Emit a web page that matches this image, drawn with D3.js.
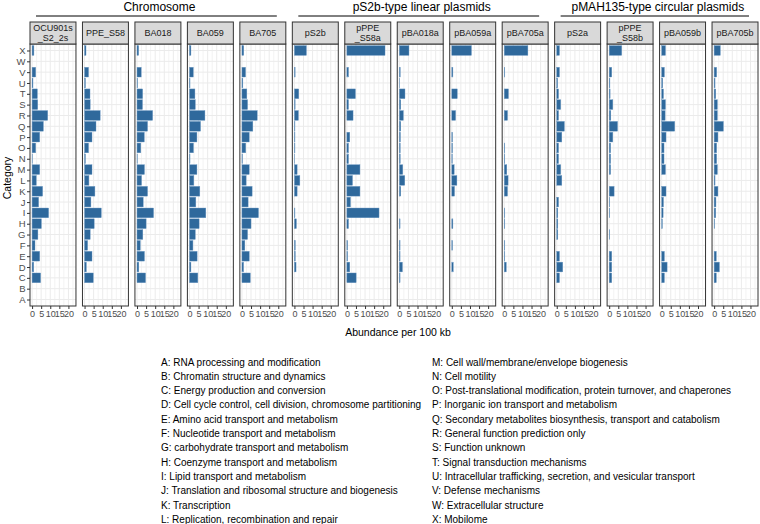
<!DOCTYPE html>
<html>
<head>
<meta charset="utf-8">
<script src="https://cdn.jsdelivr.net/npm/d3@7"></script>
<style>
  body { margin: 0; background: #fff; }
  svg { font-family: "Liberation Sans", Arial, sans-serif; }
</style>
</head>
<body>
<div id="chart"></div>
<script>

// 1. Data (values in category order A..X, abundance per 100 kb)

const categories = ["A","B","C","D","E","F","G","H","I","J","K","L","M","N","O","P","Q","R","S","T","U","V","W","X"]

const panels = ["OCU901s_S2_2s","PPE_S58","BA018","BA059","BA705",
  "pS2b","pPPE_S58a","pBA018a","pBA059a","pBA705a",
  "pS2a","pPPE_S58b","pBA059b","pBA705b"]

const stripLabels = [["OCU901s","_S2_2s"],["PPE_S58"],["BA018"],["BA059"],["BA705"],
  ["pS2b"],["pPPE","_S58a"],["pBA018a"],["pBA059a"],["pBA705a"],
  ["pS2a"],["pPPE","_S58b"],["pBA059b"],["pBA705b"]]

const groupNames = ["Chromosome","pS2b-type linear plasmids","pMAH135-type circular plasmids"]
const groupFirst = [0, 5, 10]
const groupLast = [4, 9, 13]

const xTicks = [0, 5, 10, 15, 20]
const xMinorTicks = [2.5, 7.5, 12.5, 17.5, 22.5]
const xLimits = [-1.15, 24.15]

const ocu901s = [0,0,4.7,0.9,4.2,1.6,3.2,5.1,9.1,3.6,5.8,2.3,4.2,0.2,2.0,4.2,6.2,8.6,3.1,2.9,0.5,2.0,0,1.0]
const ppeS58 = [0,0,4.8,1.0,4.1,1.7,3.1,5.3,9.2,3.5,5.7,2.4,4.1,0.5,2.2,4.1,6.3,8.6,3.1,3.0,0.5,2.2,0,0.8]
const ba018 = [0,0,4.7,1.0,4.1,1.8,3.2,5.0,9.1,3.4,5.8,2.5,4.1,0.2,2.1,4.0,5.8,8.6,3.0,3.1,0.3,2.3,0,0.9]
const ba059 = [0,0,4.6,0.8,4.2,1.9,3.2,5.3,9.0,3.5,5.7,2.4,4.1,0.3,2.2,4.1,6.1,8.5,3.2,3.0,0.3,2.1,0,0.8]
const ba705 = [0,0,4.6,0.9,4.0,1.6,3.1,5.0,9.1,3.4,5.6,2.3,4.0,0.3,2.1,4.0,6.0,8.4,3.1,2.7,0.5,2.0,0,1.0]
const pS2b = [0,0,0,0.9,0.5,0.5,0,1.1,0.3,0,1.5,3.0,1.5,0.2,0.3,0.3,0.3,2.2,0.4,2.4,0,0.4,0,6.6]
const pPPE_S58a = [0,0,5.1,1.6,0.4,0.4,0,0.9,17.7,2.0,7.2,3.1,7.2,0.9,0.9,1.6,0,3.4,0.9,4.7,0,0.9,0,21.0]
const pBA018a = [0,0,0.4,1.7,0.4,0.4,0,0.4,0,0,0.8,3.0,1.9,0.5,0.5,0.6,0.8,2.2,0.8,3.1,0.2,0.5,0,5.3]
const pBA059a = [0,0,0,0.8,0,0.4,0,0.6,0,0,1.5,2.8,1.3,0.3,0.4,0.4,0,2.1,0,3.0,0,0.6,0,10.8]
const pBA705a = [0,0,0,1.1,0.3,0.3,0,0.3,0.3,0,1.8,2.1,1.4,0.3,0.3,0,0,1.8,0,2.3,0,0.3,0,13.0]
const pS2a = [0,0,1.5,3.3,1.5,0,0.6,0.6,0.6,1.0,0,2.8,2.2,1.0,1.0,2.8,4.2,1.0,2.2,1.0,0.5,1.5,0,1.5]
const pPPE_S58b = [0,0,1.4,1.4,1.4,0,0.3,0,0.3,0.3,2.7,0,0.8,0.8,0.8,2.0,4.6,0.9,2.0,0.5,0.4,1.4,0,6.9]
const pBA059b = [0,0,1.5,3.0,1.5,0,0,0.4,0.8,1.0,2.4,0,2.1,1.3,1.3,2.4,7.2,1.9,2.1,1.0,0.6,1.5,0,2.1]
const pBA705b = [0,0,1.2,2.9,1.2,0,0,0.3,0.9,1.0,2.1,0.5,1.8,1.4,1.4,2.1,5.1,1.8,1.8,0.9,0.5,1.4,0,3.4]

const panelValues = [ocu901s, ppeS58, ba018, ba059, ba705,
  pS2b, pPPE_S58a, pBA018a, pBA059a, pBA705a,
  pS2a, pPPE_S58b, pBA059b, pBA705b]

const categoryLabels = [
  "A: RNA processing and modification",
  "B: Chromatin structure and dynamics",
  "C: Energy production and conversion",
  "D: Cell cycle control, cell division, chromosome partitioning",
  "E: Amino acid transport and metabolism",
  "F: Nucleotide transport and metabolism",
  "G: carbohydrate transport and metabolism",
  "H: Coenzyme transport and metabolism",
  "I: Lipid transport and metabolism",
  "J: Translation and ribosomal structure and biogenesis",
  "K: Transcription",
  "L: Replication, recombination and repair",
  "M: Cell wall/membrane/envelope biogenesis",
  "N: Cell motility",
  "O: Post-translational modification, protein turnover, and chaperones",
  "P: Inorganic ion transport and metabolism",
  "Q: Secondary metabolites biosynthesis, transport and catabolism",
  "R: General function prediction only",
  "S: Function unknown",
  "T: Signal transduction mechanisms",
  "U: Intracellular trafficking, secretion, and vesicular transport",
  "V: Defense mechanisms",
  "W: Extracellular structure",
  "X: Mobilome",
]

// 2. Dimensions

let dimensions = {
  width: 760,
  height: 524,
  panelLeft: 30,
  panelRight: 758,
  panelTop: 44,
  panelBottom: 306,
  stripTop: 22,
}

// 3. Canvas

const svg = d3.select("#chart")
  .append("svg")
    .attr("width", dimensions.width)
    .attr("height", dimensions.height)

// 4. Scales

const panelScale = d3.scaleBand()
  .domain(panels)
  .range([dimensions.panelLeft, dimensions.panelRight])
  .paddingInner(0.124)

const yScale = d3.scalePoint()
  .domain(categories)
  .range([dimensions.panelBottom, dimensions.panelTop])
  .padding(0.6)

const xScale = d3.scaleLinear()
  .domain(xLimits)
  .range([0, panelScale.bandwidth()])

const barHeight = yScale.step() * 0.9
const pw = panelScale.bandwidth()

// 5. Panels

panels.forEach((name, i) => {
  const g = svg.append("g")
      .attr("transform", `translate(${panelScale(name)},0)`)

  // grid
  g.selectAll(".minor")
    .data(xMinorTicks)
    .join("line")
      .attr("x1", d => xScale(d)).attr("x2", d => xScale(d))
      .attr("y1", dimensions.panelTop).attr("y2", dimensions.panelBottom)
      .attr("stroke", "#ebebeb").attr("stroke-width", 0.6)
  g.selectAll(".major")
    .data(xTicks)
    .join("line")
      .attr("x1", d => xScale(d)).attr("x2", d => xScale(d))
      .attr("y1", dimensions.panelTop).attr("y2", dimensions.panelBottom)
      .attr("stroke", "#ebebeb").attr("stroke-width", 1)
  g.selectAll(".hgrid")
    .data(categories)
    .join("line")
      .attr("x1", 0).attr("x2", pw)
      .attr("y1", d => yScale(d)).attr("y2", d => yScale(d))
      .attr("stroke", "#ebebeb").attr("stroke-width", 1)

  // bars
  const rows = categories.map((c, j) => ({ cat: c, value: panelValues[i][j] }))
    .filter(d => d.value > 0)
  g.selectAll("rect.bar")
    .data(rows)
    .join("rect")
      .attr("class", "bar")
      .attr("x", xScale(0))
      .attr("y", d => yScale(d.cat) - barHeight / 2)
      .attr("width", d => xScale(d.value) - xScale(0))
      .attr("height", barHeight)
      .attr("fill", "#2f699c")
      .attr("stroke", "#6a98c4")
      .attr("stroke-width", 0.4)

  // border
  g.append("rect")
      .attr("x", 0).attr("y", dimensions.panelTop)
      .attr("width", pw).attr("height", dimensions.panelBottom - dimensions.panelTop)
      .attr("fill", "none").attr("stroke", "#333").attr("stroke-width", 1)

  // strip
  g.append("rect")
      .attr("x", 0).attr("y", dimensions.stripTop)
      .attr("width", pw).attr("height", dimensions.panelTop - dimensions.stripTop)
      .attr("fill", "#d9d9d9").attr("stroke", "#333").attr("stroke-width", 1)
  const lines = stripLabels[i]
  const midY = (dimensions.stripTop + dimensions.panelTop) / 2
  lines.forEach((t, k) => {
    g.append("text")
      .attr("x", pw / 2)
      .attr("y", midY + 3.2 + (k - (lines.length - 1) / 2) * 10)
      .attr("text-anchor", "middle")
      .attr("font-size", 9)
      .attr("fill", "#1a1a1a")
      .text(t)
  })

  // x axis
  const xAxis = g.append("g")
      .attr("transform", `translate(0,${dimensions.panelBottom})`)
      .call(d3.axisBottom(xScale).tickValues(xTicks).tickSize(3).tickPadding(1.5))
  xAxis.select(".domain").remove()
  xAxis.selectAll(".tick line").attr("stroke", "#333")
  xAxis.selectAll(".tick text")
      .attr("fill", "#4d4d4d")
      .attr("font-size", 9)
      .attr("font-family", "Liberation Sans, Arial, sans-serif")

  if (i === 0) {
    const yAxis = g.append("g")
        .call(d3.axisLeft(yScale).tickSize(3).tickPadding(1.5))
    yAxis.select(".domain").remove()
    yAxis.selectAll(".tick line").attr("stroke", "#333")
    yAxis.selectAll(".tick text")
        .attr("fill", "#4d4d4d")
        .attr("font-size", 9.5)
        .attr("font-family", "Liberation Sans, Arial, sans-serif")
  }
})

// 6. Group headers

groupNames.forEach((name, i) => {
  const x1 = panelScale(panels[groupFirst[i]]) + 6
  const x2 = panelScale(panels[groupLast[i]]) + pw - 9
  svg.append("line")
      .attr("x1", x1).attr("x2", x2)
      .attr("y1", 16).attr("y2", 16)
      .attr("stroke", "#000").attr("stroke-width", 1)
  svg.append("text")
      .attr("x", (x1 + x2) / 2 + 3)
      .attr("y", 11)
      .attr("text-anchor", "middle")
      .attr("font-size", 12)
      .attr("fill", "#000")
      .text(name)
})

// 7. Axis titles

svg.append("text")
    .attr("x", (dimensions.panelLeft + dimensions.panelRight) / 2 + 4)
    .attr("y", 336)
    .attr("text-anchor", "middle")
    .attr("font-size", 10.5)
    .text("Abundance per 100 kb")

svg.append("text")
    .attr("transform", `translate(11,${(dimensions.panelTop + dimensions.panelBottom) / 2 + 3}) rotate(-90)`)
    .attr("text-anchor", "middle")
    .attr("font-size", 10.5)
    .text("Category")

// 8. Category legend

const legendCols = [161, 432]
categoryLabels.forEach((t, i) => {
  const col = Math.floor(i / 12)
  const row = i % 12
  svg.append("text")
      .attr("x", legendCols[col])
      .attr("y", 365.5 + row * 14.3)
      .attr("font-size", 10)
      .attr("fill", "#000")
      .text(t)
})
</script>
</body>
</html>
